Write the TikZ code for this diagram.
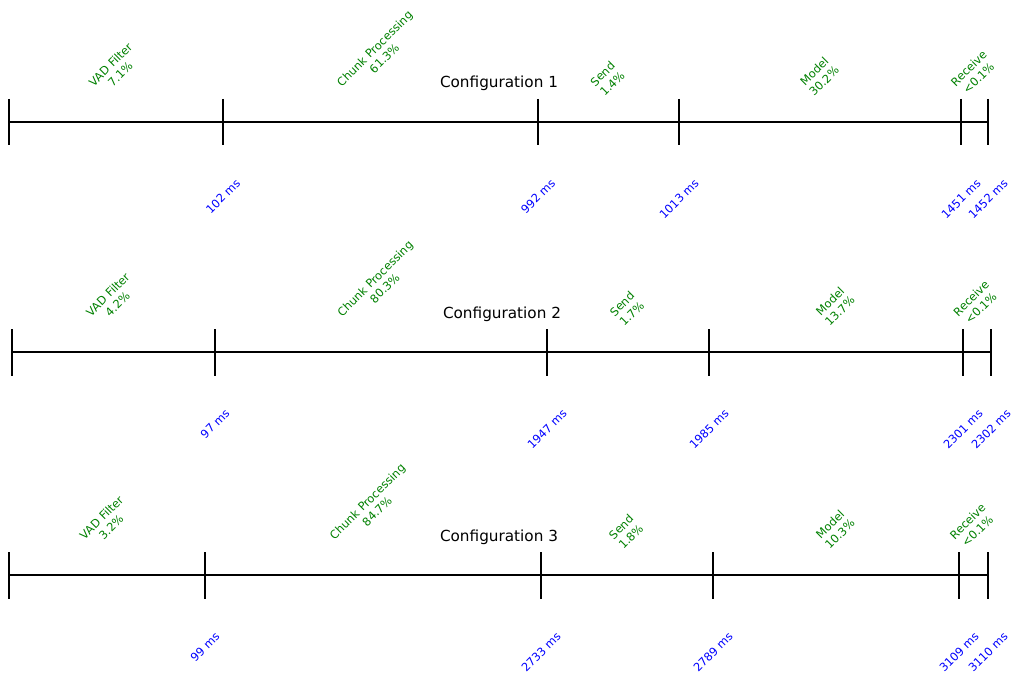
\documentclass[tikz,border=0pt]{standalone}
\usepackage{fontspec}
\setmainfont{DejaVu Sans}
\usepackage{graphicx}
\usepackage{xcolor}
\usetikzlibrary{positioning}
\definecolor{stagegreen}{rgb}{0.0, 0.5, 0.0}
\tikzstyle{heading} = [anchor=base, inner sep=0pt, font=\fontsize{15.25}{18}\selectfont]
\tikzstyle{stage} = [anchor=south, inner sep=0pt, text=stagegreen, font=\fontsize{11.43}{13.7}\selectfont]
\tikzstyle{stamp} = [inner sep=0pt, text=blue, font=\fontsize{11.43}{13.7}\selectfont]
\tikzstyle{timeline} = [line width=2pt]
\newcommand{\turned}[1]{\rotatebox{45}{\begin{tabular}{@{}c@{}}#1\end{tabular}}}

\begin{document}
\begin{tikzpicture}[x=1pt,y=-1pt]
    \useasboundingbox (0,0) rectangle (1014,687);

        % Configuration 1
        \coordinate (a0) at (9,122);
        \coordinate (a1) at (223,122);
        \coordinate (a2) at (538,122);
        \coordinate (a3) at (679,122);
        \coordinate (a4) at (961,122);
        \coordinate (a5) at (988,122);
        \node (title1) [heading] at (499,88) {Configuration 1};
        \node (vad1) [stage] at (116.4,100) {\turned{VAD Filter\\7.1\%}};
        \node (chunk1) [stage] at (380.5,100) {\turned{Chunk Processing\\61.3\%}};
        \node (send1) [stage] at (608.4,100) {\turned{Send\\1.4\%}};
        \node (model1) [stage] at (820.2,100) {\turned{Model\\30.2\%}};
        \node (receive1) [stage] at (974.7,100) {\turned{Receive\\<0.1\%}};
        \node (ms1a) [stamp, below=56pt of a1] {\rotatebox{45}{102 ms}};
        \node (ms1b) [stamp, below=56pt of a2] {\rotatebox{45}{992 ms}};
        \node (ms1c) [stamp, below=56pt of a3] {\rotatebox{45}{1013 ms}};
        \node (ms1d) [stamp, below=56pt of a4] {\rotatebox{45}{1451 ms}};
        \node (ms1e) [stamp, below=56pt of a5] {\rotatebox{45}{1452 ms}};
        \draw [timeline] (a0) -- (a5);
        \draw [timeline] ([yshift=23pt]a0) -- ([yshift=-23.5pt]a0);
        \draw [timeline] ([yshift=23pt]a1) -- ([yshift=-23.5pt]a1);
        \draw [timeline] ([yshift=23pt]a2) -- ([yshift=-23.5pt]a2);
        \draw [timeline] ([yshift=23pt]a3) -- ([yshift=-23.5pt]a3);
        \draw [timeline] ([yshift=23pt]a4) -- ([yshift=-23.5pt]a4);
        \draw [timeline] ([yshift=23pt]a5) -- ([yshift=-23.5pt]a5);

        % Configuration 2
        \coordinate (b0) at (12,352);
        \coordinate (b1) at (215,352);
        \coordinate (b2) at (547,352);
        \coordinate (b3) at (709,352);
        \coordinate (b4) at (963,352);
        \coordinate (b5) at (991,352);
        \node (title2) [heading] at (502,318) {Configuration 2};
        \node (vad2) [stage] at (113.7,330) {\turned{VAD Filter\\4.2\%}};
        \node (chunk2) [stage] at (380.9,330) {\turned{Chunk Processing\\80.3\%}};
        \node (send2) [stage] at (627.9,330) {\turned{Send\\1.7\%}};
        \node (model2) [stage] at (836,330) {\turned{Model\\13.7\%}};
        \node (receive2) [stage] at (977,330) {\turned{Receive\\<0.1\%}};
        \node (ms2a) [stamp, below=56pt of b1] {\rotatebox{45}{97 ms}};
        \node (ms2b) [stamp, below=56pt of b2] {\rotatebox{45}{1947 ms}};
        \node (ms2c) [stamp, below=56pt of b3] {\rotatebox{45}{1985 ms}};
        \node (ms2d) [stamp, below=56pt of b4] {\rotatebox{45}{2301 ms}};
        \node (ms2e) [stamp, below=56pt of b5] {\rotatebox{45}{2302 ms}};
        \draw [timeline] (b0) -- (b5);
        \draw [timeline] ([yshift=23pt]b0) -- ([yshift=-23.5pt]b0);
        \draw [timeline] ([yshift=23pt]b1) -- ([yshift=-23.5pt]b1);
        \draw [timeline] ([yshift=23pt]b2) -- ([yshift=-23.5pt]b2);
        \draw [timeline] ([yshift=23pt]b3) -- ([yshift=-23.5pt]b3);
        \draw [timeline] ([yshift=23pt]b4) -- ([yshift=-23.5pt]b4);
        \draw [timeline] ([yshift=23pt]b5) -- ([yshift=-23.5pt]b5);

        % Configuration 3
        \coordinate (c0) at (9,575);
        \coordinate (c1) at (205,575);
        \coordinate (c2) at (541,575);
        \coordinate (c3) at (713,575);
        \coordinate (c4) at (959,575);
        \coordinate (c5) at (988,575);
        \node (title3) [heading] at (499,541) {Configuration 3};
        \node (vad3) [stage] at (107.3,553) {\turned{VAD Filter\\3.2\%}};
        \node (chunk3) [stage] at (373.2,553) {\turned{Chunk Processing\\84.7\%}};
        \node (send3) [stage] at (627,553) {\turned{Send\\1.8\%}};
        \node (model3) [stage] at (836,553) {\turned{Model\\10.3\%}};
        \node (receive3) [stage] at (973.5,553) {\turned{Receive\\<0.1\%}};
        \node (ms3a) [stamp, below=56pt of c1] {\rotatebox{45}{99 ms}};
        \node (ms3b) [stamp, below=56pt of c2] {\rotatebox{45}{2733 ms}};
        \node (ms3c) [stamp, below=56pt of c3] {\rotatebox{45}{2789 ms}};
        \node (ms3d) [stamp, below=56pt of c4] {\rotatebox{45}{3109 ms}};
        \node (ms3e) [stamp, below=56pt of c5] {\rotatebox{45}{3110 ms}};
        \draw [timeline] (c0) -- (c5);
        \draw [timeline] ([yshift=23pt]c0) -- ([yshift=-23.5pt]c0);
        \draw [timeline] ([yshift=23pt]c1) -- ([yshift=-23.5pt]c1);
        \draw [timeline] ([yshift=23pt]c2) -- ([yshift=-23.5pt]c2);
        \draw [timeline] ([yshift=23pt]c3) -- ([yshift=-23.5pt]c3);
        \draw [timeline] ([yshift=23pt]c4) -- ([yshift=-23.5pt]c4);
        \draw [timeline] ([yshift=23pt]c5) -- ([yshift=-23.5pt]c5);

    \end{tikzpicture}
\end{document}
